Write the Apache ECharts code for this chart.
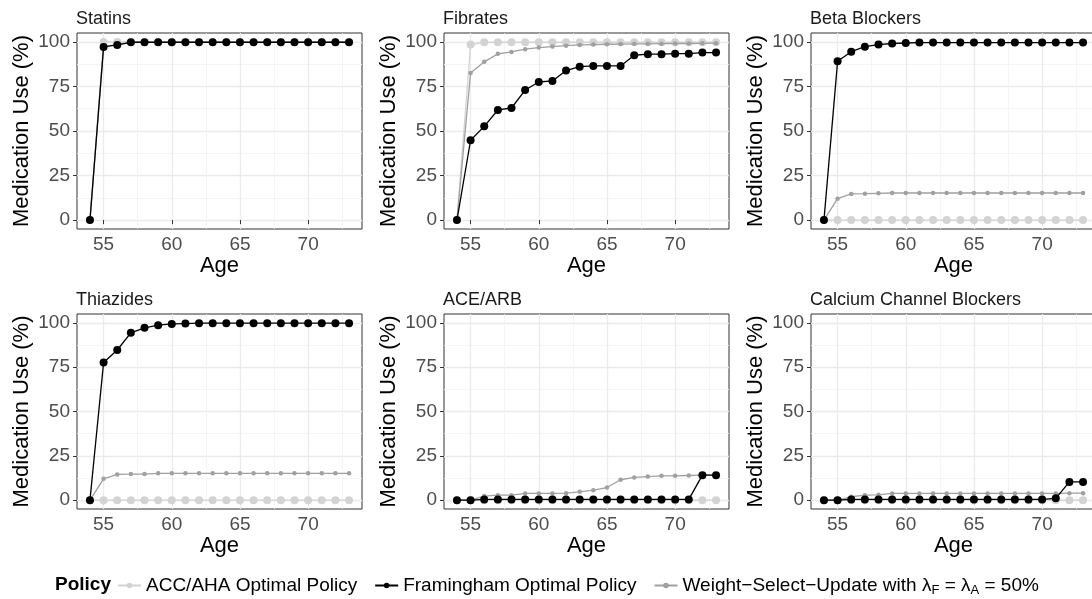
<!DOCTYPE html>
<html><head><meta charset="utf-8">
<script src="https://cdn.jsdelivr.net/npm/echarts@6/dist/echarts.min.js"></script>
<style>html,body{margin:0;padding:0;background:#fff}#c{width:1092px;height:599px}</style>
</head><body><div id="c"></div>
<script>
// ---------- data ----------
const ages = [54,55,56,57,58,59,60,61,62,63,64,65,66,67,68,69,70,71,72,73];
const panelNames = ['Statins','Fibrates','Beta Blockers','Thiazides','ACE/ARB','Calcium Channel Blockers'];
const policyNames = ['ACC/AHA Optimal Policy','Framingham Optimal Policy','Weight\u2212Select\u2212Update with \u03bbF = \u03bbA = 50%'];
const yTicks = [0,25,50,75,100];
const yMinorTicks = [12.5,37.5,62.5,87.5];
const xTicks = [55,60,65,70];
const xMinorTicks = [57.5,62.5,67.5,72.5];

const accStatins  = [0,100,100,100,100,100,100,100,100,100,100,100,100,100,100,100,100,100,100,100];
const framStatins = [0,97.2,98.3,99.8,99.8,99.8,99.8,99.8,99.8,99.8,99.8,99.8,99.8,99.8,99.8,99.8,99.8,99.8,99.8,99.8];
const wsuStatins  = [0,97.5,98.5,99.8,99.8,99.8,99.8,99.8,99.8,99.8,99.8,99.8,99.8,99.8,99.8,99.8,99.8,99.8,99.8,99.8];

const accFibrates  = [0,98.5,99.8,99.8,99.8,99.8,99.8,99.8,99.8,99.8,99.8,99.8,99.8,99.8,99.8,99.8,99.8,99.8,99.8,99.8];
const framFibrates = [0,44.8,52.6,61.8,62.9,73.0,77.5,78.1,83.9,86.1,86.5,86.5,86.5,92.5,93.1,93.1,93.4,93.4,94.0,94.0];
const wsuFibrates  = [0,82.6,88.8,93.3,94.4,95.9,96.8,97.4,97.9,98.3,98.5,98.7,98.8,98.9,98.9,99.0,99.1,99.1,99.2,99.3];

const accBeta  = [0,0,0,0,0,0,0,0,0,0,0,0,0,0,0,0,0,0,0,0];
const framBeta = [0,89.1,94.5,97.3,98.5,99.1,99.4,99.6,99.6,99.6,99.6,99.6,99.6,99.6,99.6,99.6,99.6,99.6,99.6,99.6];
const wsuBeta  = [0,12.0,14.7,14.8,15.0,15.2,15.2,15.2,15.2,15.2,15.2,15.2,15.2,15.2,15.2,15.2,15.2,15.2,15.2,15.2];

const accThiazides  = [0,0,0,0,0,0,0,0,0,0,0,0,0,0,0,0,0,0,0,0];
const framThiazides = [0,77.6,84.7,94.4,97.2,98.7,99.4,99.6,99.8,99.8,99.8,99.8,99.8,99.8,99.8,99.8,99.8,99.8,99.8,99.8];
const wsuThiazides  = [0,12.0,14.5,14.7,14.7,15.1,15.1,15.1,15.1,15.1,15.1,15.1,15.1,15.1,15.1,15.1,15.1,15.1,15.1,15.1];

const accAce  = [0,0,0,0,0,0,0,0,0,0,0,0,0,0,0,0,0,0,0,0];
const framAce = [0,0,0.4,0.4,0.4,0.4,0.4,0.4,0.4,0.4,0.4,0.4,0.4,0.4,0.4,0.4,0.4,0.4,14.1,14.1];
const wsuAce  = [0,0,2.3,2.8,2.8,3.8,3.8,3.8,3.9,4.7,5.6,7.1,11.5,12.8,13.3,13.7,13.7,13.9,14.1,14.1];

const accCcb  = [0,0,0,0,0,0,0,0,0,0,0,0,0,0,0,0,0,0,0,0];
const framCcb = [0,0,0.4,0.4,0.4,0.4,0.4,0.4,0.4,0.4,0.4,0.4,0.4,0.4,0.4,0.4,0.4,1.0,10.3,10.3];
const wsuCcb  = [0,0,1.9,2.8,3.0,3.8,3.8,3.8,3.8,3.8,3.8,3.8,3.8,3.8,3.8,3.8,3.8,3.8,3.9,3.9];

const panelAcc  = [accStatins, accFibrates, accBeta, accThiazides, accAce, accCcb];
const panelFram = [framStatins, framFibrates, framBeta, framThiazides, framAce, framCcb];
const panelWsu  = [wsuStatins, wsuFibrates, wsuBeta, wsuThiazides, wsuAce, wsuCcb];

// ---------- layout ----------
const FONT = 'Liberation Sans, Arial, sans-serif';
const colLeft = [77, 444, 811];
const rowTop = [33, 314];
const plotW = 285, plotH = [196, 195];
const xMin = 53.05, xMax = 73.95, yMin = -5, yMax = 105;

const grids = [], xAxes = [], yAxes = [], series = [], titles = [];
for (let i = 0; i < 6; i++) {
  const r = Math.floor(i / 3), c = i % 3;
  grids.push({left: colLeft[c], top: rowTop[r], width: plotW, height: plotH[r],
    show: true, borderColor: '#333333', borderWidth: 1, backgroundColor: 'transparent',
    containLabel: false, outerBoundsMode: 'none'});
  titles.push({text: panelNames[i], left: colLeft[c] - 1, top: rowTop[r] - 23,
    padding: 0, textStyle: {fontFamily: FONT, fontSize: 18, fontWeight: 'normal', color: '#1A1A1A'}});
}
for (let i = 0; i < 6; i++) {
  xAxes.push({gridIndex: i, type: 'value', min: xMin, max: xMax, position: 'bottom',
    axisLine: {show: false},
    axisTick: {show: true, customValues: xTicks, length: 4, lineStyle: {color: '#333333', width: 1}},
    axisLabel: {customValues: xTicks, margin: 6, fontFamily: FONT, fontSize: 19, color: '#4D4D4D'},
    splitLine: {show: true, lineStyle: {color: '#EBEBEB', width: 1.3}},
    name: 'Age', nameLocation: 'middle', nameGap: 26,
    nameTextStyle: {fontFamily: FONT, fontSize: 22, color: '#000000'}});
  yAxes.push({gridIndex: i, type: 'value', min: yMin, max: yMax, position: 'left',
    axisLine: {show: false},
    axisTick: {show: true, customValues: yTicks, length: 4, lineStyle: {color: '#333333', width: 1}},
    axisLabel: {customValues: yTicks, margin: 7, fontFamily: FONT, fontSize: 19, color: '#4D4D4D'},
    splitLine: {show: true, lineStyle: {color: '#EBEBEB', width: 1.3}},
    name: 'Medication Use (%)', nameLocation: 'middle', nameGap: 44,
    nameTextStyle: {fontFamily: FONT, fontSize: 22, color: '#000000'}});
}
for (let i = 0; i < 6; i++) {
  xAxes.push({gridIndex: i, type: 'value', min: xMin, max: xMax, position: 'top',
    axisLine: {show: false}, axisTick: {show: false, customValues: xMinorTicks},
    axisLabel: {show: false, customValues: xMinorTicks},
    splitLine: {show: true, lineStyle: {color: '#F2F2F2', width: 0.8}}});
  yAxes.push({gridIndex: i, type: 'value', min: yMin, max: yMax, position: 'right',
    axisLine: {show: false}, axisTick: {show: false, customValues: yMinorTicks},
    axisLabel: {show: false, customValues: yMinorTicks},
    splitLine: {show: true, lineStyle: {color: '#F2F2F2', width: 0.8}}});
}

const styles = [
  {name: policyNames[0], color: '#D3D3D3', size: 8, width: 1.3, z: 2},
  {name: policyNames[2], color: '#A0A0A0', size: 4.5, width: 1.3, z: 3},
  {name: policyNames[1], color: '#000000', size: 8, width: 1.3, z: 4}
];
for (let i = 0; i < 6; i++) {
  const vals = [panelAcc[i], panelWsu[i], panelFram[i]];
  styles.forEach((s, k) => {
    series.push({type: 'line', name: s.name, xAxisIndex: i, yAxisIndex: i,
      data: ages.map((a, j) => [a, vals[k][j]]),
      symbol: 'circle', symbolSize: s.size, showSymbol: true, z: s.z,
      lineStyle: {color: s.color, width: s.width}, itemStyle: {color: s.color},
      emphasis: {disabled: true}, animation: false});
  });
}

titles.push({text: 'Policy', left: 55, top: 575, padding: 0,
  textStyle: {fontFamily: FONT, fontSize: 19, fontWeight: 'bold', color: '#000000'}});

const option = {
  backgroundColor: '#ffffff',
  animation: false,
  title: titles,
  grid: grids,
  xAxis: xAxes,
  yAxis: yAxes,
  legend: {
    data: policyNames, left: 117, top: 576, orient: 'horizontal',
    itemWidth: 23, itemHeight: 7, itemGap: 17, padding: 0,
    formatter: function (n) {
      if (n === policyNames[2]) {
        return '{n|Weight\u2212Select\u2212Update with \u03bb}{s|F}{n| = \u03bb}{s|A}{n| = 50%}';
      }
      return '{n|' + n + '}';
    },
    textStyle: {fontFamily: FONT, fontSize: 19, color: '#000000',
      rich: {n: {fontFamily: FONT, fontSize: 19, color: '#000000'},
             s: {fontFamily: FONT, fontSize: 13, color: '#000000', padding: [9, 0, 0, 0]}}}
  },
  series: series
};
const chart = echarts.init(document.getElementById('c'), null, {renderer: 'canvas'});
chart.setOption(option);
</script></body></html>
